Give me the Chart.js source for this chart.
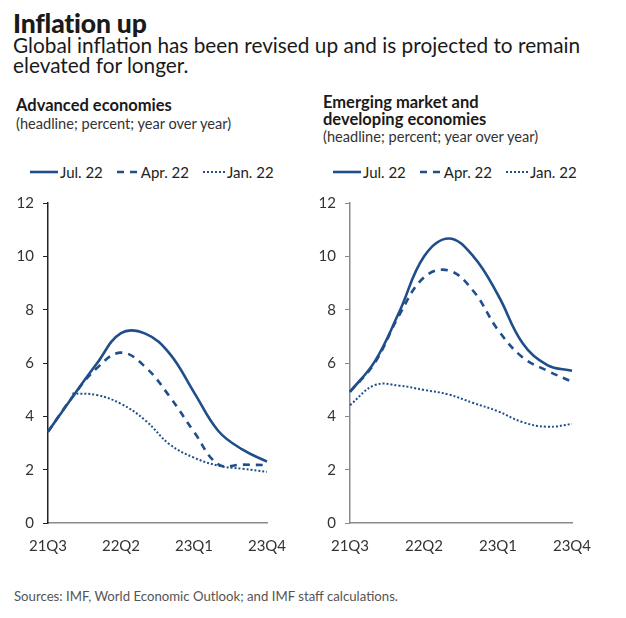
<!DOCTYPE html>
<html>
<head>
<meta charset="utf-8">
<script src="https://cdn.jsdelivr.net/npm/chart.js@4.4.0/dist/chart.umd.min.js"></script>
<style>
  body { margin: 0; width: 626px; height: 618px; background: #fff; position: relative; overflow: hidden;
         font-family: Lato, "Noto Sans", sans-serif; color: #1a1a1a; }
  .t { position: absolute; white-space: nowrap; }
  .title { left: 13px; top: 7px; font-size: 26.5px; font-weight: 900; letter-spacing: -0.2px; }
  .sub { left: 13px; top: 35px; font-size: 20.8px; line-height: 20px; }
  .head { font-size: 16.5px; font-weight: 700; line-height: 17px; }
  .note { font-size: 14.6px; line-height: 17px; color: #333; }
  .legend { position: absolute; top: 163px; font-size: 15px; color: #222; display: flex; align-items: center; }
  .legend svg { margin-right: 2px; }
  .legend span { margin-right: 14px; }
  .src { left: 14px; top: 588px; font-size: 13.2px; color: #555; }
  canvas { position: absolute; }
</style>
</head>
<body>
<div class="t title">Inflation up</div>
<div class="t sub">Global inflation has been revised up and is projected to remain<br>elevated for longer.</div>

<div class="t head" style="left:16px; top:97px;">Advanced economies</div>
<div class="t note" style="left:16px; top:115px;">(headline; percent; year over year)</div>

<div class="t head" style="left:323px; top:94px;">Emerging market and<br>developing economies</div>
<div class="t note" style="left:323px; top:128px;">(headline; percent; year over year)</div>

<div class="legend" id="legL" style="left:30px;"></div>
<div class="legend" id="legR" style="left:333px;"></div>

<canvas id="advChart" width="300" height="370" style="left:0; top:193px; width:300px; height:370px;"></canvas>
<canvas id="emChart" width="300" height="370" style="left:300px; top:193px; width:300px; height:370px;"></canvas>

<div class="t src">Sources: IMF, World Economic Outlook; and IMF staff calculations.</div>

<script>
const quarters = ['21Q3', '21Q4', '22Q1', '22Q2', '22Q3', '22Q4', '23Q1', '23Q2', '23Q3', '23Q4']
const seriesNames = ['Jul. 22', 'Apr. 22', 'Jan. 22']

// advanced economies (Jan. 22 line only shows from 21Q4 on, under the solid before that)
const advJul = [3.42, 4.72, 5.97, 7.12, 7.10, 6.35, 4.90, 3.45, 2.75, 2.30]
const advApr = [3.42, 4.72, 5.80, 6.39, 5.85, 4.74, 3.42, 2.20, 2.19, 2.17]
const advJan = [null, 4.86, 4.80, 4.47, 3.85, 2.95, 2.45, 2.15, 2.03, 1.92]

// emerging market and developing economies
const emJul = [4.92, 6.05, 7.92, 9.99, 10.67, 10.00, 8.55, 6.74, 5.92, 5.71]
const emApr = [4.92, 6.00, 7.80, 9.21, 9.47, 8.70, 7.24, 6.21, 5.71, 5.30]
const emJan = [4.42, 5.17, 5.15, 4.99, 4.82, 4.50, 4.19, 3.78, 3.61, 3.71]

const yTicks = [0, 2, 4, 6, 8, 10, 12]

const BLUE = '#1f4e8a'
const styles = [
  { borderWidth: 2.6, borderDash: [] },
  { borderWidth: 2.6, borderDash: [7, 6] },
  { borderWidth: 2, borderDash: [2, 2] },
]

const buildLegend = (el) => {
  el.innerHTML = seriesNames.map((name, i) => {
    const s = styles[i]
    const w = i === 0 ? 28 : 22
    return `<svg width="${w}" height="6"><line x1="0" y1="3" x2="${w}" y2="3" stroke="${BLUE}"
      stroke-width="${s.borderWidth}" stroke-dasharray="${s.borderDash.join(',') || 'none'}"/></svg><span>${name}</span>`
  }).join('')
}
buildLegend(document.getElementById('legL'))
buildLegend(document.getElementById('legR'))

const drawChart = (id, data, axisWidth, padRight, yAxisColor) => {
  new Chart(document.getElementById(id), {
    type: 'line',
    data: {
      labels: quarters,
      datasets: data.map((d, i) => ({
        label: seriesNames[i],
        data: d,
        borderColor: BLUE,
        borderWidth: styles[i].borderWidth,
        borderDash: styles[i].borderDash,
        borderCapStyle: 'butt',
        pointRadius: 0,
        tension: 0.4,
        fill: false,
      })).reverse(),
    },
    options: {
      responsive: false,
      animation: false,
      layout: { padding: { top: 10, right: padRight, left: 0, bottom: 0 } },
      plugins: { legend: { display: false }, tooltip: { enabled: false } },
      scales: {
        x: {
          offset: false,
          grid: { drawOnChartArea: false, drawTicks: false },
          border: { color: '#8a8a8a', width: 1.5 },
          ticks: {
            autoSkip: false, maxRotation: 0, padding: 14, color: '#333',
            font: { family: 'Lato', size: 15 },
            callback: (v, i) => (i % 3 === 0 ? quarters[i] : ''),
          },
          afterFit: (s) => { s.height = 40; s.paddingLeft = 0; s.paddingRight = 0 },
        },
        y: {
          min: 0, max: 12,
          afterBuildTicks: (s) => { s.ticks = yTicks.map(v => ({ value: v })) },
          grid: { drawOnChartArea: false, tickLength: 5, color: yAxisColor },
          border: { color: yAxisColor, width: 1.5 },
          ticks: { padding: 9, color: '#333', font: { family: 'Lato', size: 15 } },
          afterFit: (s) => { s.width = axisWidth; s.paddingTop = 0; s.paddingBottom = 0 },
        },
      },
    },
  })
}

drawChart('advChart', [advJul, advApr, advJan], 48, 33, '#222')
drawChart('emChart', [emJul, emApr, emJan], 50, 28, '#8a8a8a')
</script>
</body>
</html>
